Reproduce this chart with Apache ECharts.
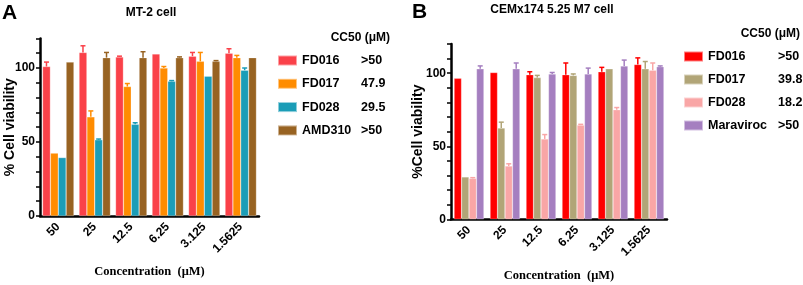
<!DOCTYPE html>
<html>
<head>
<meta charset="utf-8">
<script src="https://cdn.jsdelivr.net/npm/echarts@6/dist/echarts.min.js"></script>
<style>
  html, body { margin: 0; padding: 0; background: #fff; }
  #chart { width: 803px; height: 285px; }
</style>
</head>
<body>
<div id="chart"></div>
<script>
  // concentrations (uM), shared by both panels
  var concLabels = ['50', '25', '12.5', '6.25', '3.125', '1.5625']

  // panel A - MT-2 cell
  var mt2Names = ['FD016', 'FD017', 'FD028', 'AMD310']
  var mt2CC50 = ['>50', '47.9', '29.5', '>50']
  var mt2Colors = ['#fa4149', '#ff8c00', '#1b9db7', '#986322']
  var mt2FD016 = [101, 110.5, 107.5, 109.5, 108, 110]
  var mt2FD016Err = [3, 4.5, 0.5, 0, 2.5, 3]
  var mt2FD017 = [42.5, 67, 87.5, 100, 104.5, 107]
  var mt2FD017Err = [0, 4, 2, 1, 6, 1.5]
  var mt2FD028 = [39.5, 51.5, 62, 91, 94.5, 98.5]
  var mt2FD028Err = [0, 0.5, 1, 0.5, 0, 1.5]
  var mt2AMD310 = [104, 107, 107, 107, 104.5, 107]
  var mt2AMD310Err = [0, 3.5, 4, 0.5, 0.5, 0]

  // panel B - CEMx174 5.25 M7 cell
  var cemNames = ['FD016', 'FD017', 'FD028', 'Maraviroc']
  var cemCC50 = ['>50', '39.8', '18.2', '>50']
  var cemColors = ['#ff0000', '#b1a577', '#f9a6a6', '#a57fc0']
  var cemFD016 = [96.5, 100.5, 99, 99, 101, 106]
  var cemFD016Err = [0, 0, 2, 8, 3, 4.5]
  var cemFD017 = [29, 62.5, 97, 98.5, 103, 103]
  var cemFD017Err = [0, 4, 1.5, 1, 0, 5]
  var cemFD028 = [28, 36.5, 55, 64.5, 75, 102]
  var cemFD028Err = [0.5, 1.5, 3, 0.5, 1.5, 5]
  var cemMaraviroc = [103, 103, 99.5, 99.5, 105, 104.5]
  var cemMaravirocErr = [2, 4, 1, 4, 4, 0.5]

  var sans = "'Liberation Sans', Arial, sans-serif"
  var serif = "'Liberation Serif', 'Times New Roman', serif"

  var panels = [
    {key: 'A', names: mt2Names, cc50: mt2CC50, colors: mt2Colors, gap: 0.14,
      values: [mt2FD016, mt2FD017, mt2FD028, mt2AMD310],
      errs: [mt2FD016Err, mt2FD017Err, mt2FD028Err, mt2AMD310Err]},
    {key: 'B', names: cemNames, cc50: cemCC50, colors: cemColors, gap: 0.17,
      values: [cemFD016, cemFD017, cemFD028, cemMaraviroc],
      errs: [cemFD016Err, cemFD017Err, cemFD028Err, cemMaravirocErr]}
  ]

  function errRender (panel) {
    return function (params, api) {
      var cat = api.value(0)
      var idx = api.value(1)
      var val = api.value(2)
      var err = api.value(3)
      var band = api.size([1, 0])[0]
      var total = band * (1 - panel.gap)
      var bw = total / panel.names.length
      var base = api.coord([cat, val])
      var top = api.coord([cat, val + err])
      var x = base[0] - total / 2 + bw * (idx + 0.5)
      var half = 2.5
      var color = panel.colors[idx]
      return {
        type: 'group',
        children: [
          {type: 'line', shape: {x1: x, y1: base[1], x2: x, y2: top[1]}, style: {stroke: color, lineWidth: 1.5}},
          {type: 'line', shape: {x1: x - half, y1: top[1], x2: x + half, y2: top[1]}, style: {stroke: color, lineWidth: 1.5}}
        ]
      }
    }
  }

  var grids = [
    {left: 40, top: 38.4, width: 219, height: 177.6, outerBoundsMode: 'none'},
    {left: 451, top: 44, width: 216, height: 175.3, outerBoundsMode: 'none'}
  ]

  var xAxes = []
  var yAxes = []
  var series = []
  var legends = []

  panels.forEach(function (p, gi) {
    xAxes.push({
      type: 'category',
      gridIndex: gi,
      data: concLabels,
      name: 'Concentration  (\u03bcM)',
      nameLocation: 'middle',
      nameGap: gi === 0 ? 49 : 50,
      nameMoveOverlap: false,
      nameTextStyle: {fontFamily: serif, fontWeight: 'bold', fontSize: 12.5, color: '#000'},
      axisLine: {lineStyle: {color: '#000', width: 2.5}},
      axisTick: {alignWithLabel: true, length: 4, lineStyle: {color: '#000', width: 1.5}},
      axisLabel: {rotate: 45, margin: 9, color: '#000', fontFamily: sans, fontWeight: 'bold', fontSize: 12}
    })
    yAxes.push({
      type: 'value',
      gridIndex: gi,
      min: 0,
      max: 120,
      interval: 10,
      name: gi === 0 ? '% Cell viability' : '%Cell viability',
      nameLocation: 'middle',
      nameGap: gi === 0 ? 23 : 26,
      nameMoveOverlap: false,
      nameTextStyle: {fontFamily: sans, fontWeight: 'bold', fontSize: 14, color: '#000'},
      splitLine: {show: false},
      axisLine: {show: true, lineStyle: {color: '#000', width: 2.5}},
      axisTick: {show: true, length: 4, lineStyle: {color: '#000', width: 1.5}},
      axisLabel: {
        margin: 5, color: '#000', fontFamily: sans, fontWeight: 'bold', fontSize: 12,
        formatter: function (v) { return v % 50 === 0 ? v : '' }
      }
    })
    var legendData = []
    p.names.forEach(function (name, si) {
      var sname = p.key + ':' + name
      legendData.push(sname)
      series.push({
        type: 'bar',
        name: sname,
        xAxisIndex: gi,
        yAxisIndex: gi,
        data: p.values[si],
        barGap: '0%',
        barCategoryGap: (p.gap * 100) + '%',
        itemStyle: {color: p.colors[si], borderColor: 'rgba(255,255,255,0.5)', borderWidth: 0.5}
      })
    })
    var errData = []
    p.names.forEach(function (name, si) {
      p.values[si].forEach(function (v, ci) {
        if (p.errs[si][ci] > 0) errData.push([ci, si, v, p.errs[si][ci]])
      })
    })
    series.push({
      type: 'custom',
      xAxisIndex: gi,
      yAxisIndex: gi,
      renderItem: errRender(p),
      encode: {x: 0, y: 2},
      data: errData,
      z: 5,
      silent: true
    })
    legends.push({
      orient: 'vertical',
      left: gi === 0 ? 277 : 683,
      top: gi === 0 ? 54 : 50,
      padding: 0,
      itemWidth: 19,
      itemHeight: 10,
      itemGap: gi === 0 ? 10.3 : 10,
      icon: 'rect',
      selectedMode: false,
      data: legendData,
      formatter: function (n) {
        var name = n.slice(2)
        return '{n|' + name + '}{v|' + p.cc50[p.names.indexOf(name)] + '}'
      },
      textStyle: {
        color: '#000',
        rich: {
          n: {width: gi === 0 ? 59 : 70, fontFamily: sans, fontWeight: 'bold', fontSize: 12.5, color: '#000', lineHeight: 16},
          v: {fontFamily: sans, fontWeight: 'bold', fontSize: 12.5, color: '#000', lineHeight: 16}
        }
      }
    })
  })

  function txt (text, x, y, align, font) {
    return {type: 'text', x: x, y: y, style: {text: text, font: font, fill: '#000', textAlign: align, textVerticalAlign: 'middle'}}
  }

  var chart = echarts.init(document.getElementById('chart'))
  chart.setOption({
    animation: false,
    grid: grids,
    xAxis: xAxes,
    yAxis: yAxes,
    legend: legends,
    series: series,
    graphic: [
      txt('A', 2, 13, 'left', 'bold 21px ' + sans),
      txt('MT-2 cell', 151, 12.5, 'center', 'bold 12px ' + sans),
      txt('CC50 (\u03bcM)', 390, 38, 'right', 'bold 12px ' + sans),
      txt('B', 412, 12, 'left', 'bold 21px ' + sans),
      txt('CEMx174 5.25 M7 cell', 552, 10, 'center', 'bold 12px ' + sans),
      txt('CC50 (\u03bcM)', 800, 34, 'right', 'bold 12px ' + sans)
    ]
  })
</script>
</body>
</html>
